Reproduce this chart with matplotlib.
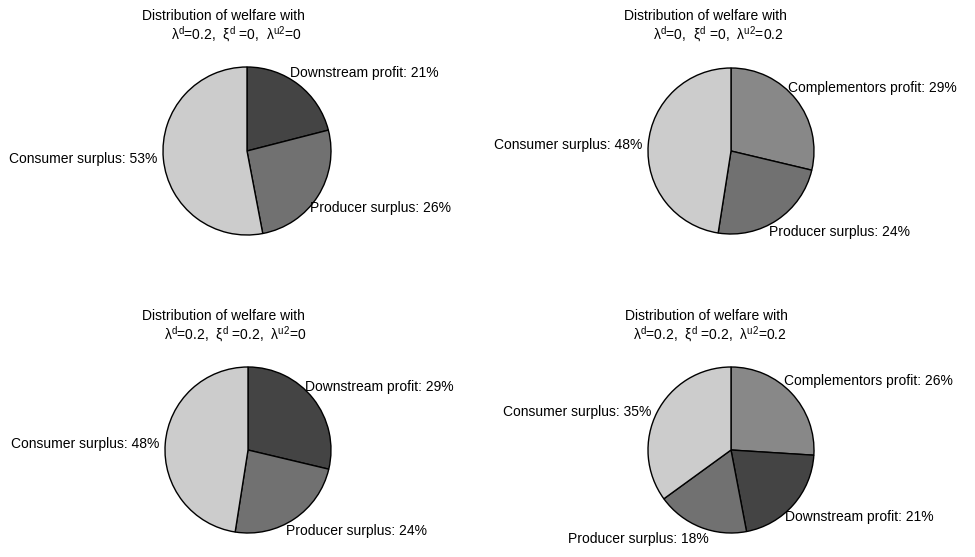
import numpy as np
import matplotlib
matplotlib.use("Agg")
import matplotlib.pyplot as plt

plt.rcParams['font.family'] = ['Liberation Sans', 'DejaVu Sans']
plt.rcParams['mathtext.fontset'] = 'custom'
plt.rcParams['mathtext.rm'] = 'Liberation Sans'
plt.rcParams['mathtext.it'] = 'Liberation Sans'
plt.rcParams['mathtext.default'] = 'regular'

# welfare shares (percent) for the four parameter settings
labels_1 = ['Downstream profit', 'Producer surplus', 'Consumer surplus']
shares_1 = [21, 26, 53]

labels_2 = ['Complementors profit', 'Producer surplus', 'Consumer surplus']
shares_2 = [29, 24, 48]

labels_3 = ['Downstream profit', 'Producer surplus', 'Consumer surplus']
shares_3 = [29, 24, 48]

labels_4 = ['Complementors profit', 'Downstream profit', 'Producer surplus', 'Consumer surplus']
shares_4 = [26, 21, 18, 35]

params = [
    r'$\lambda^{d}$=0.2,  $\xi^{d}$ =0,  $\lambda^{u2}$=0',
    r'$\lambda^{d}$=0,  $\xi^{d}$ =0,  $\lambda^{u2}$=0.2',
    r'$\lambda^{d}$=0.2,  $\xi^{d}$ =0.2,  $\lambda^{u2}$=0',
    r'$\lambda^{d}$=0.2,  $\xi^{d}$ =0.2,  $\lambda^{u2}$=0.2',
]

colors = {
    'Downstream profit': '#444444',
    'Producer surplus': '#717171',
    'Complementors profit': '#888888',
    'Consumer surplus': '#cccccc',
}

W, H = 975, 557
FS = 10
fig = plt.figure(figsize=(W / 100, H / 100), dpi=100)

# pie centre (px from top-left), radius, and title line centres
layout = [
    ((247, 151), 84, (223, 16), (236, 34)),
    ((731, 151), 83, (705, 16), (718, 34)),
    ((248, 450), 83, (223, 316), (235, 334)),
    ((731, 450), 83, (706, 316), (710, 334)),
]
data = [(labels_1, shares_1), (labels_2, shares_2),
        (labels_3, shares_3), (labels_4, shares_4)]

pad = 1.02
for (labels, shares), ((cx, cy), r, t1, t2), p in zip(data, layout, params):
    ax = fig.add_axes([(cx - pad * r) / W, (H - cy - pad * r) / H,
                       2 * pad * r / W, 2 * pad * r / H])
    wedges, _ = ax.pie(shares, startangle=90, counterclock=False,
                       colors=[colors[l] for l in labels],
                       wedgeprops=dict(edgecolor='black', linewidth=1))
    ax.set_xlim(-pad, pad)
    ax.set_ylim(-pad, pad)
    ax.set_aspect('equal')

    # label each wedge just outside its rim, callout-style
    for w, lab, v in zip(wedges, labels, shares):
        ang = np.deg2rad((w.theta1 + w.theta2) / 2)
        x, y = np.cos(ang), np.sin(ang)
        side = 1 if x > 0 else -1
        ha = 'left' if x > 0 else 'right'
        if abs(y) < 0.5:
            va, off = 'center', (6 * side, 0)
        else:
            va = 'bottom' if y > 0 else 'top'
            off = (-8 * side, 5 * np.sign(y))
        ax.annotate(f'{lab}: {v}%', xy=(x, y), xytext=off,
                    textcoords='offset pixels', ha=ha, va=va,
                    fontsize=FS, annotation_clip=False)

    fig.text(t1[0] / W, 1 - t1[1] / H, 'Distribution of welfare with',
             ha='center', va='center', fontsize=FS)
    fig.text(t2[0] / W, 1 - t2[1] / H, p, ha='center', va='center', fontsize=FS)

fig.savefig('out.png', dpi=100, facecolor='white')
